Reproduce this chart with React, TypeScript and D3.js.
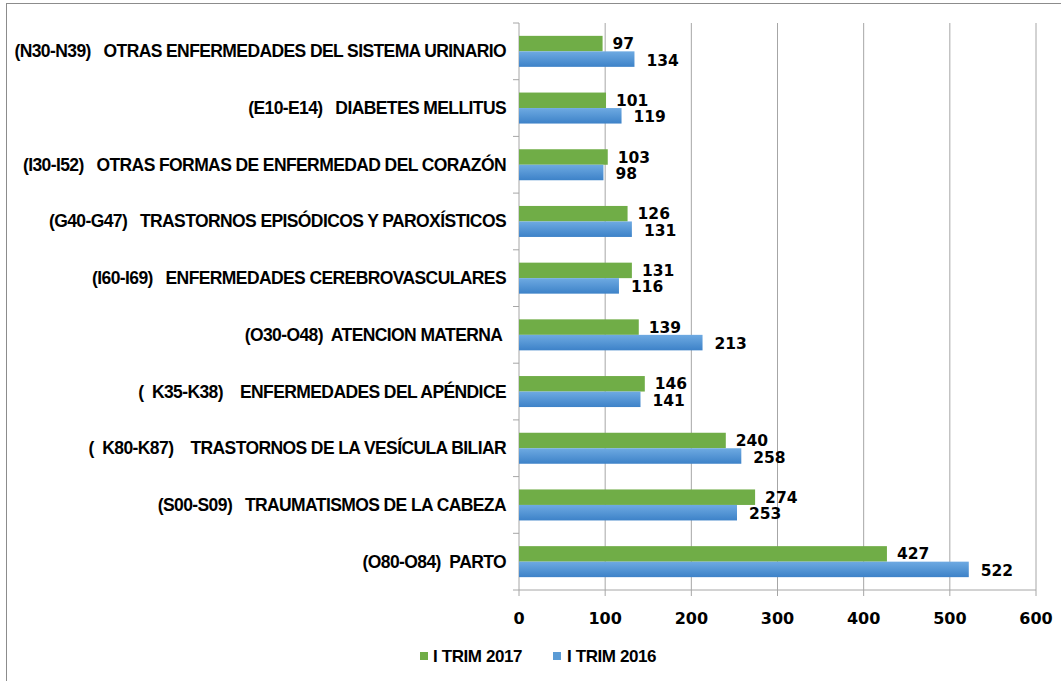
import React from "react";
import * as d3 from "d3";

const categories = [
  "(N30-N39)   OTRAS ENFERMEDADES DEL SISTEMA URINARIO",
  "(E10-E14)   DIABETES MELLITUS",
  "(I30-I52)   OTRAS FORMAS DE ENFERMEDAD DEL CORAZÓN",
  "(G40-G47)   TRASTORNOS EPISÓDICOS Y PAROXÍSTICOS",
  "(I60-I69)   ENFERMEDADES CEREBROVASCULARES",
  "(O30-O48)  ATENCION MATERNA ",
  "(  K35-K38)    ENFERMEDADES DEL APÉNDICE",
  "(  K80-K87)    TRASTORNOS DE LA VESÍCULA BILIAR",
  "(S00-S09)   TRAUMATISMOS DE LA CABEZA",
  "(O80-O84)  PARTO",
];
const trim2017 = [97, 101, 103, 126, 131, 139, 146, 240, 274, 427];
const trim2016 = [134, 119, 98, 131, 116, 213, 141, 258, 253, 522];
const xTicks = [0, 100, 200, 300, 400, 500, 600];
const seriesNames = ["I TRIM 2017", "I TRIM 2016"];

const W = 1061;
const H = 681;
const left = 519;
const right = 1036;
const top = 23;
const bottom = 590;

export default function App() {
  const x = d3.scaleLinear().domain([0, 600]).range([left, right]);
  const y = d3.scaleBand<string>().domain(categories).range([top, bottom]).paddingInner(0).paddingOuter(0);
  const band = y.bandwidth();
  const barH = 15.5;
  const gridColor = "#a6a6a6";
  const labelFont = "'Liberation Sans', Arial, sans-serif";
  const numFont = "'DejaVu Sans', sans-serif";

  return (
    <svg
      width={W}
      height={H}
      style={{ position: "absolute", left: 0, top: 0, background: "#fff" }}
    >
      <defs>
        <linearGradient id="blueGrad" x1="0" y1="0" x2="0" y2="1">
          <stop offset="0" stopColor="#6eaae2" />
          <stop offset="1" stopColor="#3d82c8" />
        </linearGradient>
      </defs>
      <rect x={6.5} y={3.5} width={1100} height={800} fill="none" stroke="#8c8c8c" strokeWidth={1} />
      {xTicks.slice(1).map((t) => (
        <line key={t} x1={x(t)} x2={x(t)} y1={top} y2={bottom} stroke={gridColor} strokeWidth={1} />
      ))}
      <line x1={left} x2={left} y1={top} y2={bottom} stroke={gridColor} />
      {categories.map((c, i) => (
        <line key={"ct" + i} x1={left - 6} x2={left} y1={top + i * band} y2={top + i * band} stroke={gridColor} />
      ))}
      <line x1={left - 6} x2={left} y1={bottom} y2={bottom} stroke={gridColor} />
      <line x1={left} x2={right} y1={bottom} y2={bottom} stroke={gridColor} />
      {xTicks.map((t) => (
        <line key={"xt" + t} x1={x(t)} x2={x(t)} y1={bottom} y2={bottom + 6} stroke={gridColor} />
      ))}
      {xTicks.map((t) => (
        <text key={"xl" + t} x={x(t)} y={624} textAnchor="middle" fontFamily={numFont} fontWeight="bold" fontSize={16} fill="#000">
          {t}
        </text>
      ))}
      {categories.map((c, i) => {
        const cy = (y(c) as number) + band / 2;
        return (
          <g key={"b" + i}>
            <rect x={x(0)} y={cy - barH} width={x(trim2017[i]) - x(0)} height={barH} fill="#70ad47" />
            <rect x={x(0)} y={cy} width={x(trim2016[i]) - x(0)} height={barH} fill="url(#blueGrad)" />
            <text x={x(trim2017[i]) + 10} y={cy - barH / 2 + 5.5} fontFamily={numFont} fontWeight="bold" fontSize={15.5} fill="#000">
              {trim2017[i]}
            </text>
            <text x={x(trim2016[i]) + 12} y={cy + barH / 2 + 6.5} fontFamily={numFont} fontWeight="bold" fontSize={15.5} fill="#000">
              {trim2016[i]}
            </text>
            <text
              x={506}
              y={cy + 6}
              textAnchor="end"
              fontFamily={labelFont}
              fontWeight="bold"
              fontSize={17.5}
              letterSpacing={-0.6}
              fill="#000"
              style={{ whiteSpace: "pre" }}
            >
              {c}
            </text>
          </g>
        );
      })}
      <rect x={420} y={652} width={8} height={8} fill="#70ad47" />
      <text x={433} y={662} fontFamily={labelFont} fontWeight="bold" fontSize={17} letterSpacing={-0.4} fill="#000">
        {seriesNames[0]}
      </text>
      <rect x={553} y={652} width={8} height={8} fill="#5b9bd5" />
      <text x={567} y={662} fontFamily={labelFont} fontWeight="bold" fontSize={17} letterSpacing={-0.4} fill="#000">
        {seriesNames[1]}
      </text>
    </svg>
  );
}
